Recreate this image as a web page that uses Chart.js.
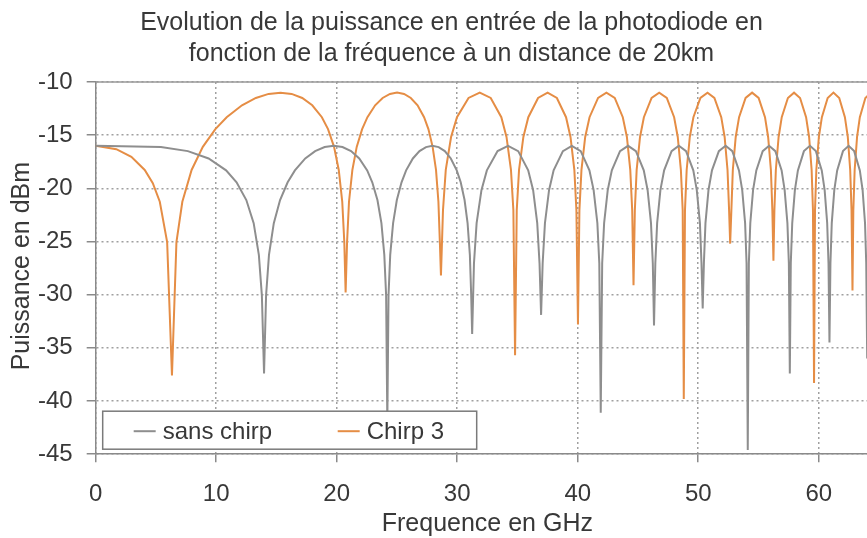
<!DOCTYPE html>
<html>
<head>
<meta charset="utf-8">
<script src="https://cdn.jsdelivr.net/npm/chart.js@4.4.1/dist/chart.umd.min.js"></script>
<style>
  html, body { margin: 0; padding: 0; background: #fff; overflow: hidden; }
  #wrap { width: 904px; height: 538px; }
</style>
</head>
<body>
<div id="wrap"><canvas id="lineChart" width="904" height="538"></canvas></div>
<script>
// valeurs (GHz / dBm)
var freqSansChirp = [
  0, 5.41, 7.65, 9.37, 10.82, 11.69, 12.50, 13.11, 13.54, 13.79, 13.97,
  14.14, 14.38, 14.78, 15.30, 15.93, 16.53, 17.39, 18.21, 19.00, 19.76, 20.48, 21.19, 21.87, 22.53, 22.95, 23.38, 23.71, 23.95, 24.10, 24.20,
  24.30, 24.44, 24.68, 24.99, 25.38, 25.76, 26.32, 26.87, 27.41, 27.94, 28.46, 28.97, 29.47, 29.96, 30.29, 30.61, 30.86, 31.05, 31.16, 31.24,
  31.39, 31.61, 32.01, 32.46, 33.35, 34.22, 35.06, 35.89, 36.30, 36.64, 36.83, 36.96,
  37.09, 37.28, 37.62, 38.00, 38.77, 39.51, 40.25, 40.97, 41.32, 41.63, 41.79, 41.91,
  42.03, 42.19, 42.49, 42.83, 43.51, 44.18, 44.83, 45.48, 45.80, 46.08, 46.23, 46.33,
  46.44, 46.59, 46.86, 47.17, 47.79, 48.39, 48.99, 49.59, 49.88, 50.14, 50.27, 50.37,
  50.47, 50.60, 50.85, 51.14, 51.71, 52.27, 52.83, 53.38, 53.65, 53.89, 54.01, 54.11,
  54.20, 54.32, 54.55, 54.82, 55.35, 55.88, 56.40, 56.92, 57.17, 57.40, 57.52, 57.60,
  57.68, 57.80, 58.02, 58.27, 58.77, 59.27, 59.76, 60.25, 60.49, 60.70, 60.81, 60.89,
  60.97, 61.08, 61.29, 61.53, 62.01, 62.48, 62.94, 63.41, 63.64, 63.84, 63.94, 64.02,
  64.09, 64.20, 64.40, 64.63, 65.08
];
var puissanceSansChirp = [
  -16, -16.12, -16.50, -17.19, -18.31, -19.43, -21.10, -23.27, -26.26, -30.06, -37.4,
  -30.06, -26.26, -23.27, -21.10, -19.43, -18.31, -17.19, -16.50, -16.12, -16, -16.12, -16.50, -17.19, -18.31, -19.43, -21.10, -23.27, -26.26, -30.06, -42,
  -30.06, -26.26, -23.27, -21.10, -19.43, -18.31, -17.19, -16.50, -16.12, -16, -16.12, -16.50, -17.19, -18.31, -19.43, -21.10, -23.27, -26.26, -30.06, -33.7,
  -27.05, -23.27, -20.17, -18.31, -16.50, -16, -16.50, -18.31, -20.17, -23.27, -27.05, -31.9,
  -27.05, -23.27, -20.17, -18.31, -16.50, -16, -16.50, -18.31, -20.17, -23.27, -27.05, -41.1,
  -27.05, -23.27, -20.17, -18.31, -16.50, -16, -16.50, -18.31, -20.17, -23.27, -27.05, -32.9,
  -27.05, -23.27, -20.17, -18.31, -16.50, -16, -16.50, -18.31, -20.17, -23.27, -27.05, -31.3,
  -27.05, -23.27, -20.17, -18.31, -16.50, -16, -16.50, -18.31, -20.17, -23.27, -27.05, -44.6,
  -27.05, -23.27, -20.17, -18.31, -16.50, -16, -16.50, -18.31, -20.17, -23.27, -27.05, -37.4,
  -27.05, -23.27, -20.17, -18.31, -16.50, -16, -16.50, -18.31, -20.17, -23.27, -27.05, -34.5,
  -27.05, -23.27, -20.17, -18.31, -16.50, -16, -16.50, -18.31, -20.17, -23.27, -27.05, -36,
  -27.05, -23.27, -20.17, -18.31, -16.50
];

var freqChirp3 = [
  0, 1.71, 2.96, 4.07, 4.74, 5.32, 5.93, 6.33,
  6.70, 7.19, 7.96, 8.89, 9.93, 10.87, 12.14, 13.29, 14.35, 15.34, 16.26, 17.14, 17.97, 18.77, 19.28, 19.78, 20.17, 20.46, 20.63, 20.74,
  20.86, 21.02, 21.30, 21.66, 22.11, 22.55, 23.19, 23.81, 24.42, 25.01, 25.59, 26.15, 26.71, 27.25, 27.61, 27.96, 28.24, 28.44, 28.56, 28.65,
  28.82, 29.05, 29.49, 29.98, 30.94, 31.87, 32.78, 33.66, 34.09, 34.46, 34.66, 34.80,
  34.94, 35.13, 35.49, 35.90, 36.71, 37.50, 38.27, 39.03, 39.40, 39.72, 39.89, 40.02,
  40.14, 40.31, 40.62, 40.98, 41.69, 42.38, 43.07, 43.74, 44.08, 44.36, 44.52, 44.63,
  44.74, 44.89, 45.17, 45.49, 46.13, 46.76, 47.39, 48.00, 48.30, 48.56, 48.71, 48.80,
  48.90, 49.04, 49.30, 49.60, 50.18, 50.77, 51.34, 51.91, 52.19, 52.43, 52.56, 52.65,
  52.75, 52.87, 53.11, 53.39, 53.93, 54.47, 55.01, 55.54, 55.80, 56.03, 56.15, 56.24,
  56.32, 56.44, 56.67, 56.93, 57.44, 57.95, 58.45, 58.95, 59.20, 59.41, 59.52, 59.61,
  59.69, 59.80, 60.01, 60.26, 60.74, 61.22, 61.70, 62.17, 62.41, 62.61, 62.72, 62.80,
  62.87, 62.98, 63.18, 63.41, 63.87, 64.33, 64.78, 65.23
];
var puissanceChirp3 = [
  -16.0, -16.32, -17.04, -18.27, -19.51, -21.26, -25.06, -37.6,
  -25.06, -21.26, -18.27, -16.10, -14.43, -13.31, -12.19, -11.50, -11.12, -11, -11.12, -11.50, -12.19, -13.31, -14.43, -16.10, -18.27, -21.26, -25.06, -29.8,
  -25.06, -21.26, -18.27, -16.10, -14.43, -13.31, -12.19, -11.50, -11.12, -11, -11.12, -11.50, -12.19, -13.31, -14.43, -16.10, -18.27, -21.26, -25.06, -28.2,
  -22.05, -18.27, -15.17, -13.31, -11.50, -11, -11.50, -13.31, -15.17, -18.27, -22.05, -35.7,
  -22.05, -18.27, -15.17, -13.31, -11.50, -11, -11.50, -13.31, -15.17, -18.27, -22.05, -32.8,
  -22.05, -18.27, -15.17, -13.31, -11.50, -11, -11.50, -13.31, -15.17, -18.27, -22.05, -29.1,
  -22.05, -18.27, -15.17, -13.31, -11.50, -11, -11.50, -13.31, -15.17, -18.27, -22.05, -39.8,
  -22.05, -18.27, -15.17, -13.31, -11.50, -11, -11.50, -13.31, -15.17, -18.27, -22.05, -25.2,
  -22.05, -18.27, -15.17, -13.31, -11.50, -11, -11.50, -13.31, -15.17, -18.27, -22.05, -26.8,
  -22.05, -18.27, -15.17, -13.31, -11.50, -11, -11.50, -13.31, -15.17, -18.27, -22.05, -38.3,
  -22.05, -18.27, -15.17, -13.31, -11.50, -11, -11.50, -13.31, -15.17, -18.27, -22.05, -29.6,
  -22.05, -18.27, -15.17, -13.31, -11.50, -11, -11.50, -13.31
];

var nomsSeries = ["sans chirp", "Chirp 3"];
var titre = ["Evolution de la puissance en entrée de la photodiode en", "fonction de la fréquence à un distance de 20km"];
var titreX = "Frequence en GHz";
var titreY = "Puissance en dBm";

var police = "'Liberation Sans', Arial, sans-serif";
var texte = "#383838";

function points(xs, ys) {
    return xs.map(function (x, i) { return { x: x, y: ys[i] }; });
}

// legende encadree dans le bas du graphe
var legendeBas = {
    id: 'legendeBas',
    afterDatasetsDraw: function (chart) {
        var ctx = chart.ctx, a = chart.chartArea;
        var x0 = a.left + 7, y0 = a.bottom - 43, w = 374, h = 38;
        ctx.save();
        ctx.fillStyle = '#fff';
        ctx.fillRect(x0, y0, w, h);
        ctx.strokeStyle = '#7a7a7a';
        ctx.lineWidth = 1.5;
        ctx.strokeRect(x0, y0, w, h);
        ctx.font = '24px ' + police;
        ctx.textBaseline = 'middle';
        var cx = [x0 + 31, x0 + 235];
        chart.data.datasets.forEach(function (ds, i) {
            var yy = y0 + h / 2 + 1;
            ctx.strokeStyle = ds.borderColor;
            ctx.lineWidth = 2;
            ctx.beginPath();
            ctx.moveTo(cx[i], yy);
            ctx.lineTo(cx[i] + 22, yy);
            ctx.stroke();
            ctx.fillStyle = texte;
            ctx.fillText(ds.label, cx[i] + 29, yy + 1);
        });
        ctx.restore();
    }
};

// bord superieur plein + titres des axes
var cadre = {
    id: 'cadre',
    beforeDatasetsDraw: function (chart) {
        var ctx = chart.ctx, a = chart.chartArea;
        ctx.save();
        ctx.strokeStyle = '#9a9a9a';
        ctx.lineWidth = 1.5;
        ctx.beginPath();
        ctx.moveTo(a.left, a.top);
        ctx.lineTo(a.right, a.top);
        ctx.stroke();
        ctx.restore();
    },
    afterDraw: function (chart) {
        var ctx = chart.ctx, a = chart.chartArea;
        ctx.save();
        ctx.fillStyle = texte;
        ctx.font = '25px ' + police;
        ctx.textAlign = 'center';
        ctx.textBaseline = 'middle';
        ctx.fillText(titreX, (a.left + a.right) / 2, a.bottom + 70);
        ctx.translate(22, (a.top + a.bottom) / 2 - 2);
        ctx.rotate(-Math.PI / 2);
        ctx.fillText(titreY, 0, 0);
        ctx.restore();
    }
};

var cv = document.getElementById("lineChart");

new Chart(cv, {
    type: 'line',
    data: {
        datasets: [
            {
                label: nomsSeries[0],
                data: points(freqSansChirp, puissanceSansChirp),
                borderColor: '#8e8e8e',
                borderWidth: 2,
                pointRadius: 0,
                tension: 0,
                fill: false
            },
            {
                label: nomsSeries[1],
                data: points(freqChirp3, puissanceChirp3),
                borderColor: '#e58d45',
                borderWidth: 2,
                pointRadius: 0,
                tension: 0,
                fill: false
            }
        ]
    },
    options: {
        responsive: false,
        animation: false,
        layout: { padding: { left: 24, right: 25, top: 0, bottom: 11 } },
        plugins: {
            legend: { display: false },
            tooltip: { enabled: false },
            title: {
                display: true,
                text: titre,
                color: texte,
                font: { family: police, size: 25, weight: 'normal', lineHeight: 1.24 },
                padding: { top: 8, bottom: 12 }
            }
        },
        scales: {
            x: {
                type: 'linear',
                min: 0,
                max: 65,
                ticks: {
                    stepSize: 10,
                    includeBounds: false,
                    color: texte,
                    font: { family: police, size: 24 },
                    padding: 18,
                    maxRotation: 0
                },
                grid: {
                    color: '#a0a0a0',
                    lineWidth: 1.5,
                    tickLength: 8,
                    tickColor: '#8a8a8a',
                    borderDash: [2, 3]
                },
                border: { display: true, color: '#8a8a8a', width: 1.5, dash: [2, 3] }
            },
            y: {
                min: -45,
                max: -10,
                ticks: {
                    stepSize: 5,
                    color: texte,
                    font: { family: police, size: 24 },
                    padding: 14
                },
                grid: {
                    color: '#a0a0a0',
                    lineWidth: 1.5,
                    tickLength: 9,
                    tickColor: '#8a8a8a',
                    borderDash: [2, 3]
                },
                border: { display: true, color: '#8a8a8a', width: 1.5, dash: [2, 3] }
            }
        }
    },
    plugins: [cadre, legendeBas]
});
</script>
</body>
</html>
